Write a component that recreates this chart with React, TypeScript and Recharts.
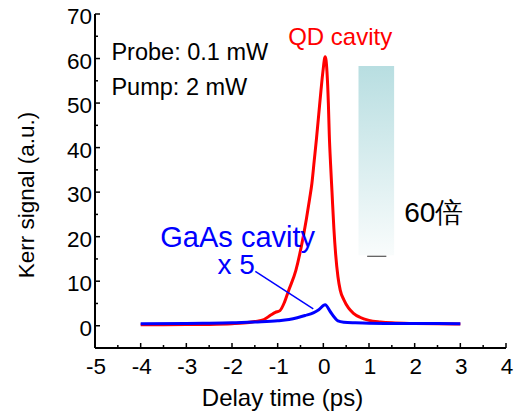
import { LineChart, Line, XAxis, YAxis, ReferenceArea, ReferenceLine, ReferenceDot } from 'recharts';

// delay time (ps) vs Kerr signal (a.u.)
const qdDelay = [-4, -3.5, -3, -2.5, -2, -1.75, -1.5, -1.3, -1.15, -1.05, -0.95, -0.85, -0.76, -0.6, -0.44, -0.37, -0.3, -0.25, -0.2, -0.15, -0.1, -0.05, -0.01, 0.04, 0.08, 0.11, 0.13, 0.16, 0.19, 0.23, 0.27, 0.32, 0.37, 0.45, 0.55, 0.66, 0.8, 1.0, 1.25, 1.5, 2, 2.5, 3];
const qdSignal = [0.2, 0.22, 0.25, 0.3, 0.45, 0.6, 0.95, 1.4, 2.4, 3.0, 3.4, 5.3, 7.9, 12.5, 20, 24, 28.5, 32, 37, 42, 47.5, 53, 57, 60.4, 57, 50, 43, 36, 30, 22, 16, 11, 8, 5.8, 4.0, 2.8, 1.9, 1.2, 0.85, 0.65, 0.5, 0.42, 0.4];

const gaasDelay = [-4, -3, -2.5, -2, -1.5, -1, -0.75, -0.57, -0.4, -0.22, -0.1, 0.04, 0.15, 0.25, 0.32, 0.45, 0.7, 1, 2, 3];
const gaasSignal = [0.45, 0.5, 0.55, 0.65, 0.85, 1.1, 1.4, 1.8, 2.3, 2.9, 3.6, 4.7, 3.2, 1.8, 1.1, 0.8, 0.65, 0.55, 0.5, 0.45];

const xTicks = [-5, -4.5, -4, -3.5, -3, -2.5, -2, -1.5, -1, -0.5, 0, 0.5, 1, 1.5, 2, 2.5, 3, 3.5, 4];
const yTicks = [0, 5, 10, 15, 20, 25, 30, 35, 40, 45, 50, 55, 60, 65, 70];

const qdData = qdDelay.map((t, i) => ({ t, v: qdSignal[i] }));
const gaasData = gaasDelay.map((t, i) => ({ t, v: gaasSignal[i] }));

const FONT = '"Liberation Sans", Arial, sans-serif';

function BottomTick({ x, y, payload }: any) {
  const major = Number.isInteger(payload.value);
  return (
    <g>
      <line x1={x} y1={y} x2={x} y2={y - (major ? 5 : 3)} stroke="#000" strokeWidth={1.5} />
      {major && (
        <text x={x + 1} y={y + 26} textAnchor="middle" fontSize={22.5} fontFamily={FONT} fill="#000">
          {payload.value}
        </text>
      )}
    </g>
  );
}

function TopTick({ x, y, payload }: any) {
  const major = Number.isInteger(payload.value);
  return <line x1={x} y1={y} x2={x} y2={y + (major ? 5 : 3)} stroke="#000" strokeWidth={1.5} />;
}

function LeftTick({ x, y, payload }: any) {
  const major = payload.value % 10 === 0;
  return (
    <g>
      <line x1={x} y1={y} x2={x + (major ? 5 : 3)} y2={y} stroke="#000" strokeWidth={1.5} />
      {major && (
        <text x={x - 3} y={y + 10} textAnchor="end" fontSize={22.5} fontFamily={FONT} fill="#000">
          {payload.value}
        </text>
      )}
    </g>
  );
}

function RightTick({ x, y, payload }: any) {
  const major = payload.value % 10 === 0;
  return <line x1={x} y1={y} x2={x - (major ? 5 : 3)} y2={y} stroke="#000" strokeWidth={1.5} />;
}

const note = (text: string, color: string, size: number) => (p: any) => (
  <text x={p.viewBox.x} y={p.viewBox.y} fill={color} fontSize={size} fontFamily={FONT}>
    {text}
  </text>
);

export default function App() {
  return (
    <div style={{ position: 'absolute', left: 0, top: 0, background: '#fff' }}>
      <LineChart width={517} height={414} margin={{ top: 14, right: 11, left: 0, bottom: 0 }}>
        <defs>
          <linearGradient id="barFade" x1="0" y1="0" x2="0" y2="1">
            <stop offset="0%" stopColor="#b8dee1" />
            <stop offset="100%" stopColor="#f9fcfc" />
          </linearGradient>
        </defs>
        <XAxis
          dataKey="t"
          type="number"
          domain={[-5, 4]}
          ticks={xTicks}
          interval={0}
          height={66}
          tickSize={0}
          tickMargin={0}
          tickLine={false}
          tick={<BottomTick />}
          axisLine={{ stroke: '#000', strokeWidth: 2 }}
          allowDataOverflow
          label={(p: any) => (
            <text
              x={p.viewBox.x + p.viewBox.width / 2 - 18}
              y={p.viewBox.y + 58}
              textAnchor="middle"
              fontSize={24}
              fontFamily={FONT}
              fill="#000"
            >
              Delay time (ps)
            </text>
          )}
        />
        <XAxis
          xAxisId="top"
          orientation="top"
          type="number"
          domain={[-5, 4]}
          ticks={xTicks}
          interval={0}
          height={0}
          tickSize={0}
          tickMargin={0}
          tickLine={false}
          tick={<TopTick />}
          axisLine={{ stroke: '#000', strokeWidth: 2 }}
          allowDataOverflow
        />
        <YAxis
          type="number"
          domain={[-5, 70]}
          ticks={yTicks}
          interval={0}
          width={95}
          tickSize={0}
          tickMargin={0}
          tickLine={false}
          tick={<LeftTick />}
          axisLine={{ stroke: '#000', strokeWidth: 2 }}
          allowDataOverflow
          label={(p: any) => {
            const cx = p.viewBox.x + 34;
            const cy = p.viewBox.y + p.viewBox.height / 2 + 14;
            return (
              <text
                x={cx}
                y={cy}
                transform={`rotate(-90, ${cx}, ${cy})`}
                textAnchor="middle"
                fontSize={22.5}
                fontFamily={FONT}
                fill="#000"
              >
                Kerr signal (a.u.)
              </text>
            );
          }}
        />
        <YAxis
          yAxisId="right"
          orientation="right"
          type="number"
          domain={[-5, 70]}
          ticks={yTicks}
          interval={0}
          width={0}
          tickSize={0}
          tickMargin={0}
          tickLine={false}
          tick={<RightTick />}
          axisLine={{ stroke: '#000', strokeWidth: 2 }}
          allowDataOverflow
        />

        <ReferenceArea x1={0.77} x2={1.55} y1={15.8} y2={58.3} fill="url(#barFade)" fillOpacity={1} stroke="none" />
        <ReferenceLine segment={[{ x: 0.96, y: 15.6 }, { x: 1.38, y: 15.6 }]} stroke="#333" strokeWidth={1} />

        <Line data={qdData} dataKey="v" type="monotone" stroke="#ff0000" strokeWidth={3} dot={false} isAnimationActive={false} />
        <Line data={gaasData} dataKey="v" type="monotone" stroke="#0000ff" strokeWidth={3} dot={false} isAnimationActive={false} />

        <ReferenceLine segment={[{ x: -1.49, y: 12.2 }, { x: -0.22, y: 3.8 }]} stroke="#0000ff" strokeWidth={1.5} />

        <ReferenceDot x={-4.64} y={59.7} r={0} fill="none" stroke="none" label={note('Probe: 0.1 mW', '#000', 23.5)} />
        <ReferenceDot x={-4.64} y={51.8} r={0} fill="none" stroke="none" label={note('Pump: 2 mW', '#000', 23.5)} />
        <ReferenceDot x={-0.77} y={63.1} r={0} fill="none" stroke="none" label={note('QD cavity', '#ff0000', 24)} />
        <ReferenceDot x={-3.57} y={17.6} r={0} fill="none" stroke="none" label={note('GaAs cavity', '#0000ff', 29)} />
        <ReferenceDot x={-2.32} y={11.7} r={0} fill="none" stroke="none" label={note('x 5', '#0000ff', 28)} />
        <ReferenceDot x={1.77} y={23.2} r={0} fill="none" stroke="none" label={note('60倍', '#000', 28)} />
      </LineChart>
    </div>
  );
}
